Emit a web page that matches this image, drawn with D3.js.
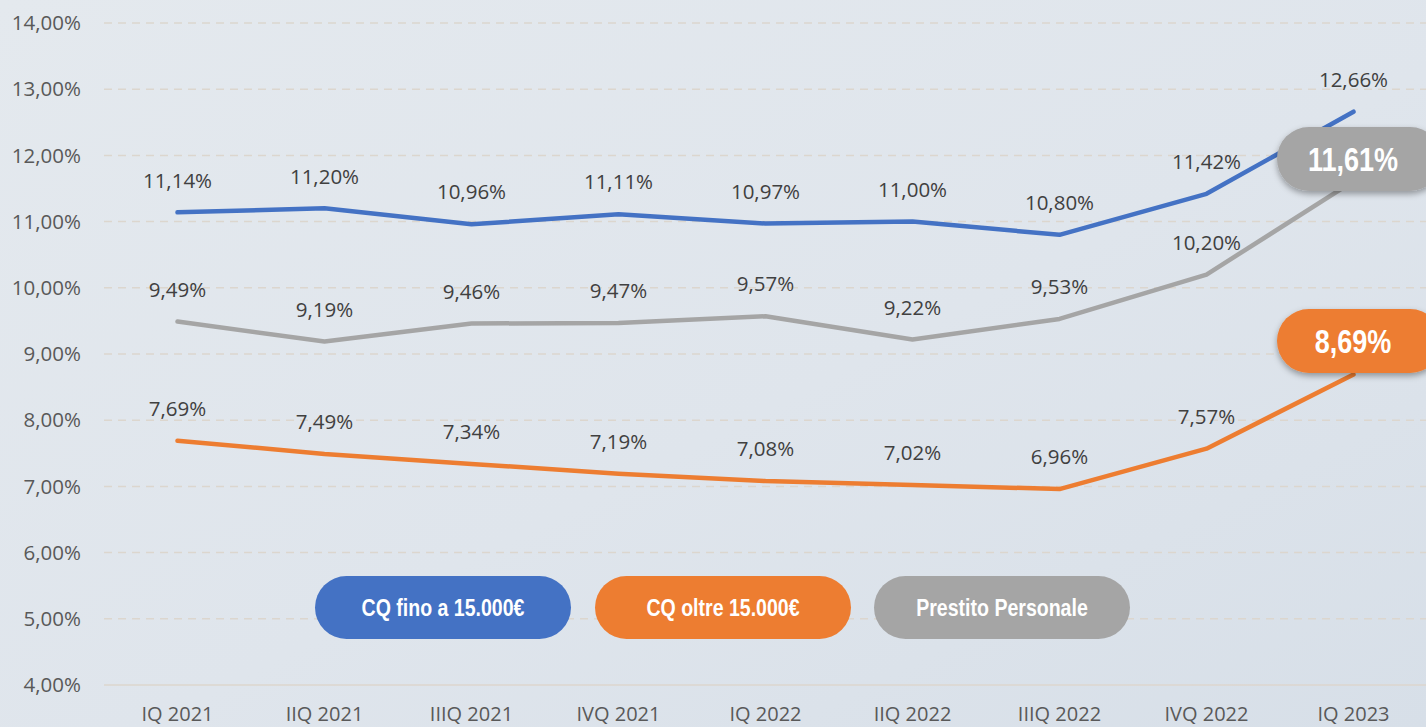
<!DOCTYPE html>
<html>
<head>
<meta charset="utf-8">
<script src="https://cdn.jsdelivr.net/npm/d3@7"></script>
<style>
  html, body { margin: 0; padding: 0; }
  body { width: 1426px; height: 727px; overflow: hidden; background: #dfe5ec; }
  svg { display: block; }
</style>
</head>
<body>
<svg id="chart" width="1426" height="727"></svg>
<script>
const quarters = ['IQ 2021', 'IIQ 2021', 'IIIQ 2021', 'IVQ 2021', 'IQ 2022', 'IIQ 2022', 'IIIQ 2022', 'IVQ 2022', 'IQ 2023'];
const cqFino = [11.14, 11.20, 10.96, 11.11, 10.97, 11.00, 10.80, 11.42, 12.66];
const cqOltre = [7.69, 7.49, 7.34, 7.19, 7.08, 7.02, 6.96, 7.57, 8.69];
const prestito = [9.49, 9.19, 9.46, 9.47, 9.57, 9.22, 9.53, 10.20, 11.61];
const yTicks = [4, 5, 6, 7, 8, 9, 10, 11, 12, 13, 14];
const seriesNames = ['CQ fino a 15.000€', 'CQ oltre 15.000€', 'Prestito Personale'];
const seriesColours = ['#4472c4', '#ed7d31', '#a5a5a5'];

const svg = d3.select('#chart');
const width = 1426;
const height = 727;
const fmt = v => v.toFixed(2).replace('.', ',') + '%';
const labelFont = 'Open Sans, sans-serif';
const boldFont = 'Liberation Sans, Arial, sans-serif';

// background
const defs = svg.append('defs');
const bg = defs.append('linearGradient').attr('id', 'bg').attr('x1', 0).attr('y1', 0).attr('x2', 1).attr('y2', 1);
bg.append('stop').attr('offset', '0%').attr('stop-color', '#e4e9ee');
bg.append('stop').attr('offset', '55%').attr('stop-color', '#dfe5ec');
bg.append('stop').attr('offset', '100%').attr('stop-color', '#d7dfe8');
const shadow = defs.append('filter').attr('id', 'shadow').attr('x', '-20%').attr('y', '-20%').attr('width', '140%').attr('height', '160%');
shadow.append('feDropShadow').attr('dx', 0).attr('dy', 3).attr('stdDeviation', 3).attr('flood-color', '#000').attr('flood-opacity', 0.35);
svg.append('rect').attr('width', width).attr('height', height).attr('fill', 'url(#bg)');

const x = d3.scalePoint().domain(quarters).range([177.5, 1353.5]);
const y = d3.scaleLinear().domain([4, 14]).range([685, 23]);

// grid
svg.append('g')
  .selectAll('line')
  .data(yTicks)
  .join('line')
  .attr('x1', 104)
  .attr('x2', width)
  .attr('y1', d => y(d))
  .attr('y2', d => y(d))
  .attr('stroke', '#dcd6ce')
  .attr('stroke-width', 1.5)
  .attr('stroke-dasharray', d => d === 4 ? null : '8,6');

// y axis labels
svg.append('g')
  .selectAll('text')
  .data(yTicks)
  .join('text')
  .attr('x', 81)
  .attr('y', d => y(d))
  .attr('dy', '0.35em')
  .attr('text-anchor', 'end')
  .attr('font-family', labelFont)
  .attr('font-size', 20.5)
  .attr('fill', '#595959')
  .text(d => fmt(d));

// x axis labels
svg.append('g')
  .selectAll('text')
  .data(quarters)
  .join('text')
  .attr('x', d => x(d))
  .attr('y', 721)
  .attr('text-anchor', 'middle')
  .attr('font-family', labelFont)
  .attr('font-size', 20)
  .attr('fill', '#595959')
  .text(d => d);

const series = [cqFino, cqOltre, prestito];
const line = d3.line().x((d, i) => x(quarters[i])).y(d => y(d));

// draw order: blue, orange, grey
[0, 1, 2].forEach(k => {
  svg.append('path')
    .datum(series[k])
    .attr('d', line)
    .attr('fill', 'none')
    .attr('stroke', seriesColours[k])
    .attr('stroke-width', 4.5)
    .attr('stroke-linecap', 'round')
    .attr('stroke-linejoin', 'round');
});

// data labels (last point of orange and grey goes in badge)
series.forEach((vals, k) => {
  const pts = (k === 0) ? vals : vals.slice(0, vals.length - 1);
  svg.append('g')
    .selectAll('text')
    .data(pts)
    .join('text')
    .attr('x', (d, i) => x(quarters[i]))
    .attr('y', d => y(d) - 32)
    .attr('dy', '0.35em')
    .attr('text-anchor', 'middle')
    .attr('font-family', labelFont)
    .attr('font-size', 20.5)
    .attr('fill', '#404040')
    .text(d => fmt(d));
});

// condensed bold text helper
function narrowText(g, cx, cy, size, squeeze, txt) {
  g.append('text')
    .attr('transform', `translate(${cx},${cy}) scale(${squeeze},1)`)
    .attr('dy', '0.36em')
    .attr('text-anchor', 'middle')
    .attr('font-family', boldFont)
    .attr('font-weight', 'bold')
    .attr('font-size', size)
    .attr('fill', '#fff')
    .text(txt);
}

// end badges
const badges = [
  { value: prestito[prestito.length - 1], colour: seriesColours[2], cy: 159 },
  { value: cqOltre[cqOltre.length - 1], colour: seriesColours[1], cy: 341 }
];
badges.forEach(b => {
  const g = svg.append('g');
  g.append('rect')
    .attr('x', 1277)
    .attr('y', b.cy - 32)
    .attr('width', 165)
    .attr('height', 64)
    .attr('rx', 32)
    .attr('fill', b.colour)
    .attr('filter', 'url(#shadow)');
  narrowText(g, 1353, b.cy, 33, 0.82, fmt(b.value));
});

// legend pills
const legendX = [315, 595, 874];
const legend = svg.append('g');
seriesNames.forEach((name, k) => {
  legend.append('rect')
    .attr('x', legendX[k])
    .attr('y', 576)
    .attr('width', 256)
    .attr('height', 63)
    .attr('rx', 31.5)
    .attr('fill', seriesColours[k]);
  narrowText(legend, legendX[k] + 128, 608, 23, 0.85, name);
});
</script>
</body>
</html>
